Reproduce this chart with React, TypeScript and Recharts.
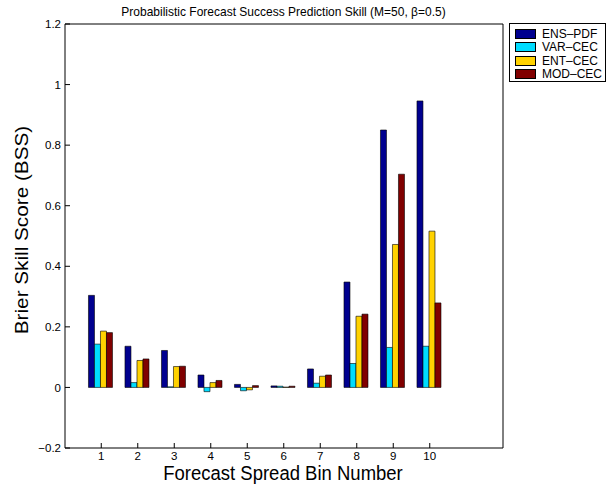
import { BarChart, Bar, XAxis, YAxis } from "recharts";

const bins = [1, 2, 3, 4, 5, 6, 7, 8, 9, 10];
const seriesNames = ["ENS-PDF", "VAR-CEC", "ENT-CEC", "MOD-CEC"];
const seriesColors = ["#00008f", "#00dcff", "#ffd200", "#800000"];

const ensPdf = [0.304, 0.136, 0.122, 0.041, 0.01, 0.005, 0.061, 0.348, 0.85, 0.946];
const varCec = [0.143, 0.016, 0.002, -0.014, -0.011, 0.004, 0.014, 0.079, 0.132, 0.136];
const entCec = [0.186, 0.089, 0.069, 0.016, -0.008, 0.001, 0.037, 0.235, 0.472, 0.516];
const modCec = [0.181, 0.094, 0.07, 0.023, 0.006, 0.004, 0.041, 0.242, 0.704, 0.279];

const yTicks = [-0.2, 0, 0.2, 0.4, 0.6, 0.8, 1, 1.2];

const data = bins.map((b, i) => ({
  bin: b,
  ensPdf: ensPdf[i],
  varCec: varCec[i],
  entCec: entCec[i],
  modCec: modCec[i],
}));
const keys = ["ensPdf", "varCec", "entCec", "modCec"];

const font = "'Liberation Sans', Arial, Helvetica, sans-serif";
const tickStyle = { fontSize: 11.5, fill: "#000", fontFamily: font };
const fmtY = (v: number) => (v < 0 ? "\u2212" + Math.abs(v) : String(v));
const pad = { left: 18, right: 55 };

export default function App() {
  return (
    <div style={{ position: "absolute", left: 0, top: 0, width: 611, height: 486, background: "#fff", fontFamily: font }}>
      <BarChart
        width={611}
        height={486}
        data={data}
        margin={{ top: 24, right: 108, bottom: 16, left: 25 }}
        barGap={0}
        barCategoryGap="15%"
      >
        <XAxis
          dataKey="bin"
          height={22}
          padding={pad}
          tick={tickStyle}
          tickSize={-5}
          tickMargin={9}
          stroke="#000"
        />
        <XAxis
          xAxisId="top"
          dataKey="bin"
          orientation="top"
          height={1}
          padding={pad}
          mirror
          tick={false}
          tickSize={5}
          stroke="#000"
        />
        <YAxis
          width={40}
          type="number"
          domain={[-0.2, 1.2]}
          ticks={yTicks}
          interval={0}
          tickFormatter={fmtY}
          tick={tickStyle}
          tickSize={-5}
          tickMargin={9}
          stroke="#000"
        />
        <YAxis
          yAxisId="right"
          orientation="right"
          width={1}
          type="number"
          domain={[-0.2, 1.2]}
          ticks={yTicks}
          interval={0}
          mirror
          tick={false}
          tickSize={5}
          stroke="#000"
        />
        {keys.map((k, i) => (
          <Bar
            key={k}
            dataKey={k}
            name={seriesNames[i]}
            fill={seriesColors[i]}
            stroke="#000"
            strokeWidth={0.6}
            isAnimationActive={false}
          />
        ))}
      </BarChart>

      <div
        style={{
          position: "absolute",
          left: 0,
          width: 567,
          top: 6,
          textAlign: "center",
          fontSize: 12,
          lineHeight: "13px",
          transform: "scaleY(1.1)",
        }}
      >
        Probabilistic Forecast Success Prediction Skill (M=50, β=0.5)
      </div>

      <div
        style={{
          position: "absolute",
          left: 0,
          width: 566,
          top: 462,
          textAlign: "center",
          fontSize: 18.5,
          lineHeight: "22px",
          transform: "scaleY(1.12)",
        }}
      >
        Forecast Spread Bin Number
      </div>

      <div
        style={{
          position: "absolute",
          left: 22,
          top: 230,
          whiteSpace: "nowrap",
          fontSize: 18.5,
          lineHeight: "22px",
          transform: "translate(-50%, -50%) scaleY(1.12) rotate(-90deg)",
        }}
      >
        Brier Skill Score (BSS)
      </div>

      <div
        style={{
          position: "absolute",
          left: 509,
          top: 23,
          width: 97,
          height: 59,
          border: "1px solid #000",
          background: "#fff",
          boxSizing: "border-box",
          paddingTop: 3,
        }}
      >
        {seriesNames.map((n, i) => (
          <div key={n} style={{ display: "flex", alignItems: "center", height: 13.5, fontSize: 12 }}>
            <span
              style={{
                display: "inline-block",
                width: 21,
                height: 10,
                marginLeft: 5,
                marginRight: 6,
                background: seriesColors[i],
                border: "1px solid #000",
                boxSizing: "border-box",
              }}
            />
            <span>{n.replace("-", "\u2013")}</span>
          </div>
        ))}
      </div>
    </div>
  );
}
